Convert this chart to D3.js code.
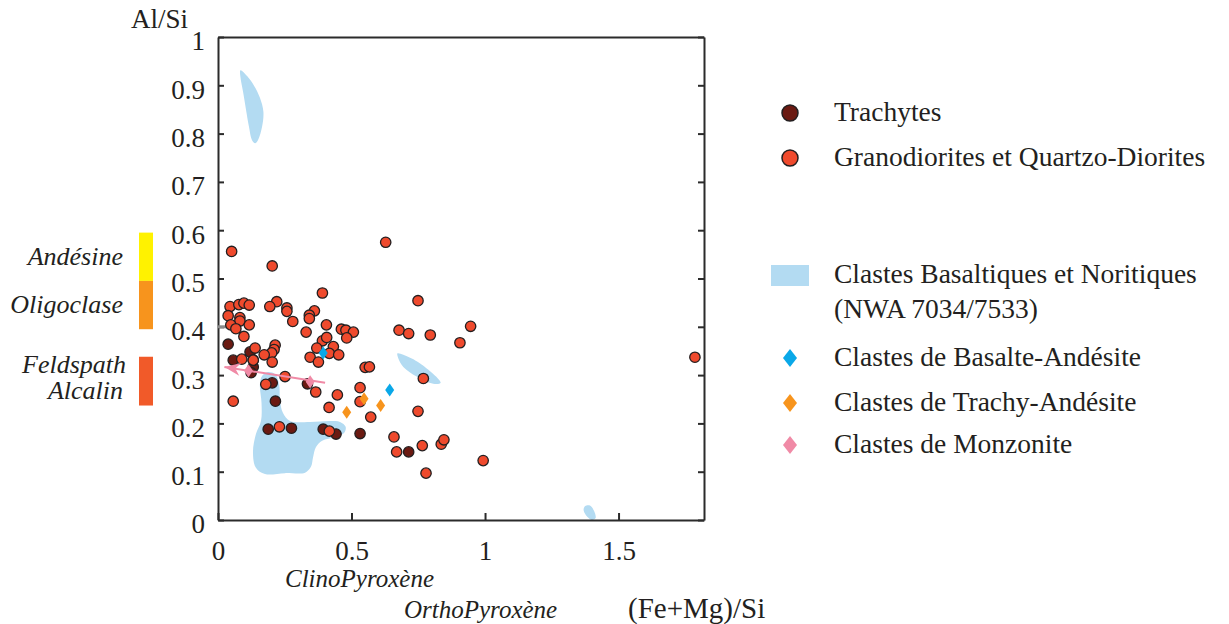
<!DOCTYPE html>
<html><head><meta charset="utf-8">
<script src="https://cdn.jsdelivr.net/npm/d3@7"></script>
<style>
body{margin:0;background:#fff}
svg{display:block}
text{font-family:"Liberation Serif","Times New Roman",serif;fill:#231f20}
</style>
</head><body>
<svg id="chart" width="1229" height="624"></svg>
<script>
// ---------- DATA ----------
const xTicks = [0, 0.5, 1, 1.5];
const xTickLabels = ["0", "0.5", "1", "1.5"];
const yTicks = [0, 0.1, 0.2, 0.3, 0.4, 0.5, 0.6, 0.7, 0.8, 0.9, 1];
const yTickLabels = ["0", "0.1", "0.2", "0.3", "0.4", "0.5", "0.6", "0.7", "0.8", "0.9", "1"];

// Granodiorites et Quartzo-Diorites: [(Fe+Mg)/Si, Al/Si]
const granodiorites = [
  [0.051,0.556],[0.203,0.526],[0.628,0.575],[0.391,0.470],[0.220,0.452],[0.194,0.442],
  [0.258,0.439],[0.258,0.432],[0.045,0.442],[0.078,0.446],[0.097,0.449],[0.117,0.445],
  [0.038,0.423],[0.082,0.419],[0.082,0.412],[0.048,0.404],[0.067,0.396],[0.117,0.404],
  [0.097,0.380],[0.361,0.433],[0.342,0.424],[0.342,0.417],[0.280,0.411],[0.406,0.404],
  [0.330,0.389],[0.462,0.395],[0.479,0.393],[0.507,0.389],[0.482,0.377],[0.678,0.393],
  [0.714,0.386],[0.795,0.383],[0.946,0.401],[0.906,0.367],[0.749,0.454],[0.391,0.371],
  [0.407,0.378],[0.370,0.356],[0.432,0.359],[0.417,0.345],[0.452,0.342],[0.345,0.337],
  [0.376,0.327],[0.139,0.356],[0.214,0.362],[0.210,0.353],[0.201,0.346],[0.173,0.342],
  [0.203,0.327],[0.089,0.333],[0.132,0.331],[0.551,0.316],[0.567,0.317],[0.251,0.297],
  [0.179,0.281],[0.366,0.265],[0.447,0.259],[0.416,0.233],[0.057,0.246],[0.230,0.193],
  [0.417,0.184],[0.532,0.274],[0.532,0.245],[0.572,0.213],[0.749,0.225],[0.769,0.293],
  [0.659,0.172],[0.765,0.154],[0.836,0.157],[0.846,0.166],[0.669,0.141],[0.993,0.123],
  [0.779,0.097],[1.786,0.337]
];
// Trachytes
const trachytes = [
  [0.038,0.364],[0.057,0.331],[0.120,0.348],[0.132,0.317],[0.124,0.305],[0.203,0.284],
  [0.335,0.282],[0.215,0.246],[0.188,0.188],[0.275,0.190],[0.394,0.188],[0.442,0.178],
  [0.532,0.179],[0.714,0.141],[0.132,0.331]
];
const basalteAndesite = [[0.394,0.346],[0.643,0.269]];
const trachyAndesite = [[0.547,0.251],[0.482,0.223],[0.609,0.237]];
const monzonite = [[0.114,0.309],[0.345,0.286]];
const monzoniteArrow = [[0.401,0.284],[0.024,0.317]];

// Clastes Basaltiques et Noritiques (NWA 7034/7533) fields
const fieldMain = [
  [0.184,0.306],[0.214,0.302],[0.229,0.280],[0.232,0.248],[0.243,0.222],[0.270,0.205],
  [0.345,0.203],[0.420,0.205],[0.457,0.203],[0.478,0.193],[0.472,0.180],[0.438,0.172],
  [0.390,0.164],[0.367,0.151],[0.356,0.130],[0.348,0.110],[0.326,0.098],[0.251,0.097],
  [0.176,0.095],[0.142,0.108],[0.131,0.141],[0.142,0.178],[0.161,0.205],[0.163,0.242],
  [0.157,0.280],[0.165,0.298]
];
const fieldTop = [
  [0.084,0.931],[0.109,0.919],[0.135,0.899],[0.157,0.874],[0.170,0.845],[0.165,0.814],
  [0.150,0.787],[0.139,0.780],[0.127,0.787],[0.116,0.814],[0.105,0.849],[0.094,0.886],
  [0.084,0.917]
];
const fieldMid = [
  [0.672,0.345],[0.694,0.342],[0.757,0.324],[0.834,0.284],[0.806,0.282],[0.744,0.297],
  [0.694,0.317],[0.675,0.335]
];
const fieldLow = [
  [1.375,0.029],[1.393,0.030],[1.408,0.019],[1.414,0.004],[1.401,0.000],[1.378,0.010],
  [1.369,0.021]
];

// Feldspar bars (Al/Si ranges)
const feldsparNames = [["Andésine"], ["Oligoclase"], ["Feldspath", "Alcalin"]];
const feldsparLow = [0.495, 0.395, 0.237];
const feldsparHigh = [0.595, 0.495, 0.338];

const legendLabels = [
  ["Trachytes"], ["Granodiorites et Quartzo-Diorites"],
  ["Clastes Basaltiques et Noritiques", "(NWA 7034/7533)"],
  ["Clastes de Basalte-Andésite"], ["Clastes de Trachy-Andésite"], ["Clastes de Monzonite"]
];

// ---------- STYLE ----------
const C = {
  red: "#ef4a2d", dark: "#6b1a12", stroke: "#231f20", blue: "#b3dbf2",
  cyan: "#0aa8e8", orange: "#f7941d", pink: "#f08aa6", axis: "#2b2b2b"
};
const feldsparColors = ["#fff200", "#f7941d", "#f15a29"];

const svg = d3.select("#chart");
const x = d3.scaleLinear().domain([0, 1.82]).range([218, 704]);
const y = d3.scaleLinear().domain([0, 1]).range([520, 37]);

// ---------- FIELDS ----------
const area = d3.line().x(d => x(d[0])).y(d => y(d[1])).curve(d3.curveCatmullRomClosed.alpha(0.5));
[fieldMain, fieldTop, fieldMid, fieldLow].forEach(f => {
  svg.append("path").attr("d", area(f)).attr("fill", C.blue).attr("stroke", "none");
});

// ---------- AXES ----------
const axisStyle = g => {
  g.attr("font-family", "Liberation Serif");
  g.selectAll(".domain").attr("stroke", C.axis).attr("stroke-width", 2);
  g.selectAll(".tick line").attr("stroke", C.axis).attr("stroke-width", 2);
  g.selectAll("text").attr("font-size", 27).attr("fill", "#231f20");
};
svg.append("g").attr("transform", "translate(218,0)")
  .call(d3.axisLeft(y).tickValues(yTicks).tickFormat((d, i) => yTickLabels[i]).tickSizeInner(-6).tickSizeOuter(0).tickPadding(13))
  .call(axisStyle)
  .call(g => g.selectAll("text").attr("dy", "0.48em"));
svg.append("g").attr("transform", "translate(0,520)")
  .call(d3.axisBottom(x).tickValues(xTicks).tickFormat((d, i) => xTickLabels[i]).tickSizeInner(-7).tickSizeOuter(0).tickPadding(21))
  .call(axisStyle);
svg.append("g").attr("transform", "translate(704,0)")
  .call(d3.axisLeft(y).tickValues(yTicks).tickFormat("").tickSizeInner(6).tickSizeOuter(0))
  .call(axisStyle);
svg.append("g").attr("transform", "translate(0,37)")
  .call(d3.axisTop(x).tickValues([]).tickSizeOuter(0))
  .call(axisStyle);
// gray marker at Al/Si = 0.4
svg.append("line").attr("x1", x(0)).attr("x2", x(0) + 9).attr("y1", y(0.4)).attr("y2", y(0.4))
  .attr("stroke", "#8a8a8a").attr("stroke-width", 3);

// axis titles
svg.append("text").attr("x", 131).attr("y", 28).attr("font-size", 27).text("Al/Si");
svg.append("text").attr("x", 628).attr("y", 618).attr("font-size", 29).text("(Fe+Mg)/Si");
svg.append("text").attr("x", 285).attr("y", 587).attr("font-size", 25).attr("font-style", "italic").text("ClinoPyroxène");
svg.append("text").attr("x", 404).attr("y", 618).attr("font-size", 25).attr("font-style", "italic").text("OrthoPyroxène");

// ---------- FELDSPAR BARS ----------
feldsparNames.forEach((names, i) => {
  svg.append("rect").attr("x", 139).attr("width", 14)
    .attr("y", y(feldsparHigh[i])).attr("height", y(feldsparLow[i]) - y(feldsparHigh[i]))
    .attr("fill", feldsparColors[i]);
  const mid = (y(feldsparHigh[i]) + y(feldsparLow[i])) / 2;
  const lh = 25.6;
  const t = svg.append("text").attr("text-anchor", "end")
    .attr("font-size", 26).attr("font-style", "italic");
  names.forEach((n, j) => {
    t.append("tspan").attr("x", 123 + (i === 2 && j === 0 ? 3 : 0))
      .attr("y", mid + 8 - (names.length - 1) * lh / 2 + j * lh - (i === 2 ? 3 : 0))
      .text(n);
  });
});

// ---------- POINTS ----------
const gPts = svg.append("g");
gPts.selectAll("circle.tr").data(trachytes).join("circle").attr("class", "tr")
  .attr("cx", d => x(d[0])).attr("cy", d => y(d[1])).attr("r", 5.2)
  .attr("fill", C.dark).attr("stroke", C.stroke).attr("stroke-width", 1.3);
gPts.selectAll("circle.gr").data(granodiorites).join("circle").attr("class", "gr")
  .attr("cx", d => x(d[0])).attr("cy", d => y(d[1])).attr("r", 5.2)
  .attr("fill", C.red).attr("stroke", C.stroke).attr("stroke-width", 1.3);

// monzonite arrow
const defs = svg.append("defs");
defs.append("marker").attr("id", "arr").attr("markerUnits", "userSpaceOnUse")
  .attr("viewBox", "-17 -8 18 16").attr("markerWidth", 18).attr("markerHeight", 16)
  .attr("refX", 0).attr("refY", 0).attr("orient", "auto")
  .append("path").attr("d", "M0,0 L-16,-6.5 L-11,0 L-16,6.5 Z").attr("fill", C.pink);
svg.append("line")
  .attr("x1", x(monzoniteArrow[0][0])).attr("y1", y(monzoniteArrow[0][1]))
  .attr("x2", x(monzoniteArrow[1][0])).attr("y2", y(monzoniteArrow[1][1]))
  .attr("stroke", C.pink).attr("stroke-width", 2).attr("marker-end", "url(#arr)");

const diamond = (w, h) => `M0,${-h/2} L${w/2},0 L0,${h/2} L${-w/2},0 Z`;
[[basalteAndesite, C.cyan], [trachyAndesite, C.orange], [monzonite, C.pink]].forEach(([data, col]) => {
  svg.append("g").selectAll("path").data(data).join("path")
    .attr("d", diamond(9, 13)).attr("fill", col)
    .attr("transform", d => `translate(${x(d[0])},${y(d[1])})`);
});

// ---------- LEGEND ----------
const legendY = [113, 158, 275, 358, 403, 445];
const lg = svg.append("g");
legendLabels.forEach((lines, i) => {
  const cy = legendY[i];
  if (i === 0 || i === 1) {
    lg.append("circle").attr("cx", 790).attr("cy", cy).attr("r", 8)
      .attr("fill", i === 0 ? C.dark : C.red).attr("stroke", C.stroke).attr("stroke-width", 1.5);
  } else if (i === 2) {
    lg.append("rect").attr("x", 771).attr("y", cy - 10).attr("width", 38).attr("height", 21).attr("fill", C.blue);
  } else {
    lg.append("path").attr("d", diamond(14, 18))
      .attr("fill", [C.cyan, C.orange, C.pink][i - 3])
      .attr("transform", `translate(790,${cy})`);
  }
  const t = lg.append("text").attr("font-size", 27.5);
  lines.forEach((s, j) => {
    t.append("tspan").attr("x", 834).attr("y", cy + 8 + j * 35).text(s);
  });
});
</script>
</body></html>
